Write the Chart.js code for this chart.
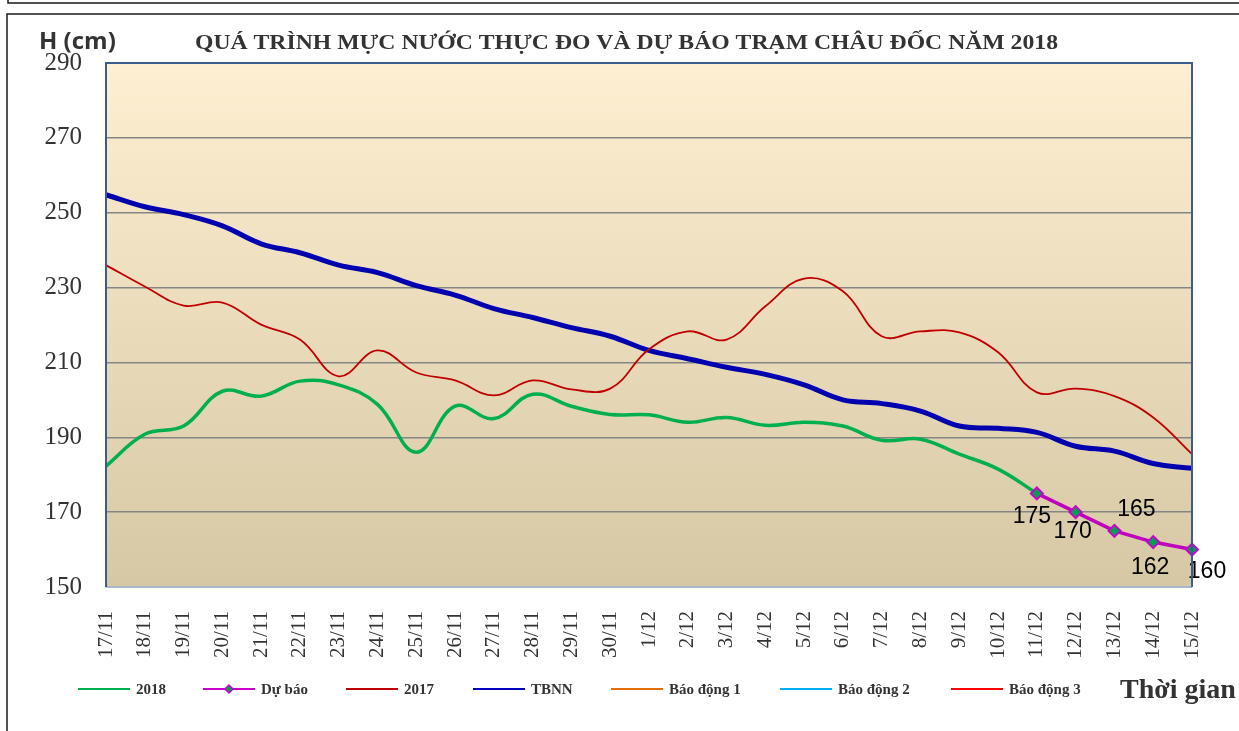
<!DOCTYPE html>
<html>
<head>
<meta charset="utf-8">
<script src="https://cdn.jsdelivr.net/npm/chart.js@4.4.1/dist/chart.umd.min.js"></script>
<style>
  body { margin: 0; background: #fff; }
  canvas { display: block; }
</style>
</head>
<body>
<canvas id="chart" width="1239" height="731"></canvas>
<script>
// ngày quan trắc
const labels = ['17/11', '18/11', '19/11', '20/11', '21/11', '22/11', '23/11', '24/11', '25/11', '26/11',
  '27/11', '28/11', '29/11', '30/11', '1/12', '2/12', '3/12', '4/12', '5/12', '6/12',
  '7/12', '8/12', '9/12', '10/12', '11/12', '12/12', '13/12', '14/12', '15/12'];

// mực nước (cm)
const h2018 = [182.3, 190.8, 193, 202.3, 201, 205, 204, 198.8, 186, 198.3,
  195, 201.5, 198.3, 196.1, 196, 194, 195.3, 193.2, 194, 193,
  189.2, 189.5, 185.5, 181.5, 175, null, null, null, null];
const duBao = [null, null, null, null, null, null, null, null, null, null,
  null, null, null, null, null, null, null, null, null, null,
  null, null, null, null, 175, 170, 165, 162, 160];
const h2017 = [236, 230.3, 225.2, 226, 220.1, 216.1, 206.3, 213.2, 207.3, 205.2,
  201.2, 205.2, 202.8, 203, 213.5, 218.3, 216.1, 225, 232.4, 229,
  217, 218.3, 218, 212.7, 202, 203, 201, 195.3, 185.5];
const tbnn = [254.8, 251.6, 249.5, 246.5, 241.7, 239.3, 236, 234, 230.5, 228,
  224.4, 222, 219.3, 217, 213.2, 211, 208.7, 206.8, 204, 200,
  199, 197, 193, 192.4, 191.3, 187.6, 186.3, 183, 181.7];
// báo động nằm ngoài khung trục
const baoDong1 = [];
const baoDong2 = [];
const baoDong3 = [];

const yMin = 150, yMax = 290, yStep = 20;

// vị trí nhãn dự báo so với điểm (px)
const labelOffsets = [[-5, 23], [-3, 20], [22, -21], [-3, 26], [15, 22]];

const serif = '"Liberation Serif", "Times New Roman", serif';

const legendItems = [
  {text: '2018', color: '#00B050', x: 78, marker: false},
  {text: 'Dự báo', color: '#CC00CC', x: 203, marker: true},
  {text: '2017', color: '#C00000', x: 346, marker: false},
  {text: 'TBNN', color: '#0000C0', x: 473, marker: false},
  {text: 'Báo động 1', color: '#E46C0A', x: 611, marker: false},
  {text: 'Báo động 2', color: '#00B0F0', x: 780, marker: false},
  {text: 'Báo động 3', color: '#FF0000', x: 951, marker: false}
];

// chữ kéo giãn theo chiều ngang cho vừa bề rộng
function wideText(ctx, txt, x, y, w) {
  const m = ctx.measureText(txt).width;
  ctx.save();
  ctx.translate(x, y);
  ctx.scale(w / m, 1);
  ctx.fillText(txt, 0, 0);
  ctx.restore();
}

const decor = {
  id: 'decor',
  beforeDraw(chart) {
    const ctx = chart.ctx, a = chart.chartArea;
    ctx.save();
    ctx.fillStyle = '#fff';
    ctx.fillRect(0, 0, chart.width, chart.height);
    // khung ngoài
    ctx.strokeStyle = '#1a1a1a';
    ctx.lineWidth = 1.5;
    ctx.beginPath();
    ctx.moveTo(8, 0); ctx.lineTo(8, 3); ctx.lineTo(1245, 3);
    ctx.moveTo(7, 740); ctx.lineTo(7, 14); ctx.lineTo(1245, 14);
    ctx.stroke();
    // nền vùng vẽ
    const g = ctx.createLinearGradient(0, a.top, 0, a.bottom);
    g.addColorStop(0, '#FEEFD2');
    g.addColorStop(1, '#D6C8A4');
    ctx.fillStyle = g;
    ctx.fillRect(a.left, a.top, a.right - a.left, a.bottom - a.top);
    ctx.restore();
  },
  afterDatasetsDraw(chart) {
    const ctx = chart.ctx;
    const meta = chart.getDatasetMeta(1);
    ctx.save();
    ctx.font = '23px "Liberation Sans", Arial, sans-serif';
    ctx.fillStyle = '#000';
    ctx.textAlign = 'center';
    ctx.textBaseline = 'middle';
    let k = 0;
    duBao.forEach((v, i) => {
      if (v === null) return;
      const p = meta.data[i];
      const off = labelOffsets[k++];
      ctx.fillText(String(v), p.x + off[0], p.y + off[1]);
    });
    ctx.restore();
  },
  afterDraw(chart) {
    const ctx = chart.ctx, a = chart.chartArea;
    ctx.save();
    // viền vùng vẽ
    ctx.lineWidth = 2;
    ctx.strokeStyle = '#A9B6C8';
    ctx.beginPath();
    ctx.moveTo(a.left, a.bottom); ctx.lineTo(a.right, a.bottom);
    ctx.stroke();
    ctx.strokeStyle = '#3A5C8F';
    ctx.beginPath();
    ctx.moveTo(a.left, a.bottom); ctx.lineTo(a.left, a.top);
    ctx.lineTo(a.right, a.top); ctx.lineTo(a.right, a.bottom);
    ctx.stroke();

    // tiêu đề
    ctx.fillStyle = '#333';
    ctx.textBaseline = 'middle';
    ctx.textAlign = 'left';
    ctx.font = 'bold 21px ' + serif;
    wideText(ctx, 'QUÁ TRÌNH MỰC NƯỚC THỰC ĐO VÀ DỰ BÁO TRẠM CHÂU ĐỐC NĂM 2018', 195, 44, 863);
    ctx.font = 'bold 24px "Open Sans", sans-serif';
    ctx.fillText('H (cm)', 39, 42);

    // chú giải
    const ly = 689;
    legendItems.forEach(it => {
      ctx.strokeStyle = it.color;
      ctx.lineWidth = 2;
      ctx.beginPath();
      ctx.moveTo(it.x, ly); ctx.lineTo(it.x + 52, ly);
      ctx.stroke();
      if (it.marker) {
        const cx = it.x + 26;
        ctx.fillStyle = '#00A050';
        ctx.beginPath();
        ctx.moveTo(cx, ly - 4); ctx.lineTo(cx + 4, ly); ctx.lineTo(cx, ly + 4); ctx.lineTo(cx - 4, ly);
        ctx.closePath();
        ctx.fill();
        ctx.lineWidth = 1.5;
        ctx.stroke();
      }
      ctx.fillStyle = '#333';
      ctx.font = 'bold 15px ' + serif;
      ctx.fillText(it.text, it.x + 58, ly + 1);
    });
    ctx.font = 'bold 28px ' + serif;
    ctx.fillText('Thời gian', 1120, ly + 2);
    ctx.restore();
  }
};

new Chart(document.getElementById('chart'), {
  type: 'line',
  data: {
    labels: labels,
    datasets: [
      {label: '2018', data: h2018, borderColor: '#00B050', borderWidth: 3.5, pointRadius: 0, tension: 0.4, order: 2},
      {label: 'Dự báo', data: duBao, borderColor: '#C000C0', borderWidth: 3.5, tension: 0,
        pointStyle: 'rectRot', pointRadius: 6, pointBackgroundColor: '#00A050',
        pointBorderColor: '#CC00CC', pointBorderWidth: 2, order: 1},
      {label: '2017', data: h2017, borderColor: '#C00000', borderWidth: 1.8, pointRadius: 0, tension: 0.4, order: 3},
      {label: 'TBNN', data: tbnn, borderColor: '#0000AF', borderWidth: 5, pointRadius: 0, tension: 0.4, order: 4},
      {label: 'Báo động 1', data: baoDong1, borderColor: '#E46C0A', borderWidth: 2, pointRadius: 0},
      {label: 'Báo động 2', data: baoDong2, borderColor: '#00B0F0', borderWidth: 2, pointRadius: 0},
      {label: 'Báo động 3', data: baoDong3, borderColor: '#FF0000', borderWidth: 2, pointRadius: 0}
    ]
  },
  options: {
    responsive: false,
    animation: false,
    layout: {padding: {left: 0, right: 47, top: 63, bottom: 0}},
    plugins: {legend: {display: false}, tooltip: {enabled: false}},
    scales: {
      x: {
        grid: {display: false, drawTicks: false},
        border: {display: false},
        ticks: {minRotation: 90, maxRotation: 90, autoSkip: false, padding: 24,
          color: '#333', font: {family: serif, size: 21}},
        afterFit: s => { s.height = 144; s.paddingLeft = 0; s.paddingRight = 0; }
      },
      y: {
        min: yMin, max: yMax,
        grid: {
          drawTicks: false, lineWidth: 1.5,
          color: c => (c.tick.value === yMin || c.tick.value === yMax) ? 'rgba(0,0,0,0)' : '#858585'
        },
        border: {display: false},
        ticks: {stepSize: yStep, padding: 24, color: '#333', font: {family: serif, size: 25}},
        afterFit: s => { s.width = 106; }
      }
    }
  },
  plugins: [decor]
});
</script>
</body>
</html>
